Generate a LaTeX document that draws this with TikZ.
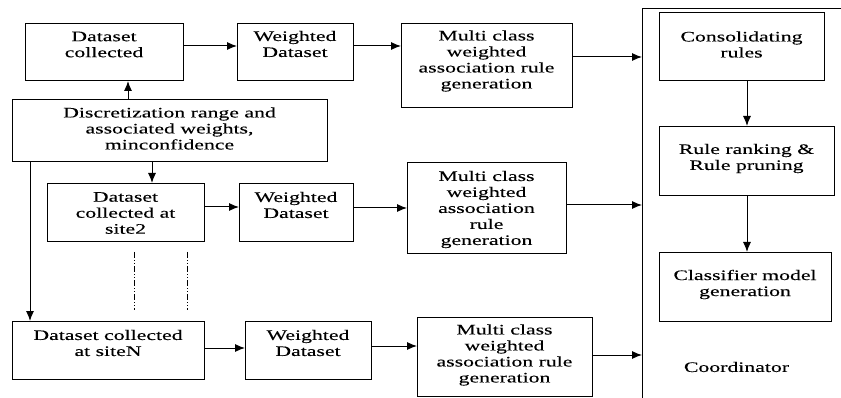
\documentclass[tikz,border=0pt]{standalone}
\usepackage{fontspec}
\setmainfont[FakeStretch=1.5,FakeBold=0.2]{Liberation Serif}
\usetikzlibrary{arrows.meta}

\tikzset{
  box/.style={draw, line width=1pt, inner sep=0pt, anchor=north west},
  txt/.style={align=center, inner sep=0pt, font=\fontsize{14.5}{16}\selectfont},
  flow/.style={line width=1pt, -{Latex[length=10pt,width=8pt]}},
  plain/.style={line width=1pt},
  dotdash/.style={line width=1pt, dash pattern=on 6pt off 2pt on 1pt off 2pt on 1pt off 2pt}
}

\begin{document}
\begin{tikzpicture}[x=1pt,y=-1pt]
\useasboundingbox (0,0) rectangle (841,398);

% site 1
\node[box, minimum width=158pt, minimum height=57pt] (dc) at (25,23) {};
\node[txt] (dct) at (104,44.5) {Dataset\\collected};
\node[box, minimum width=116pt, minimum height=57pt] (wd1) at (237,23) {};
\node[txt] (wd1t) at (295,44) {Weighted\\Dataset};
\node[box, minimum width=171pt, minimum height=84pt] (mc1) at (401,23) {};
\node[txt] (mc1t) at (486.5,61) {Multi class\\weighted\\association rule\\generation};

% parameters
\node[box, minimum width=315pt, minimum height=62pt] (disc) at (12,99) {};
\node[txt] (disct) at (169.5,128.5) {Discretization range and\\associated weights,\\minconfidence};

% site 2
\node[box, minimum width=157pt, minimum height=58pt] (s2) at (47,183) {};
\node[txt] (s2t) at (125.5,213) {Dataset\\collected at\\site2};
\node[box, minimum width=114pt, minimum height=58pt] (wd2) at (239,183) {};
\node[txt] (wd2t) at (296,205) {Weighted\\Dataset};
\node[box, minimum width=159pt, minimum height=91pt] (mc2) at (407,162) {};
\node[txt] (mc2t) at (486.5,209.5) {Multi class\\weighted\\association\\rule\\generation};

% site N
\node[box, minimum width=192pt, minimum height=58pt] (sN) at (12,321) {};
\node[txt] (sNt) at (108,343) {Dataset collected\\at siteN};
\node[box, minimum width=126pt, minimum height=58pt] (wd3) at (245,321) {};
\node[txt] (wd3t) at (308,343) {Weighted\\Dataset};
\node[box, minimum width=175pt, minimum height=79pt] (mc3) at (417,317) {};
\node[txt] (mc3t) at (504.5,355) {Multi class\\weighted\\association rule\\generation};

% coordinator
\node[box, minimum width=165pt, minimum height=68pt] (cr) at (659,12) {};
\node[txt] (crt) at (741.5,44.5) {Consolidating\\rules};
\node[box, minimum width=175pt, minimum height=69pt] (rr) at (659,126) {};
\node[txt] (rrt) at (746.5,158.5) {Rule ranking \&\\Rule pruning};
\node[box, minimum width=172pt, minimum height=69pt] (cl) at (659,252) {};
\node[txt] (clt) at (745,284.5) {Classifier model\\generation};
\node[txt] (coord) at (736.5,367) {Coordinator};

% coordinator boundary
\coordinate (ctop) at (642,9);
\coordinate (cbot) at (642,398);
\coordinate (cright) at (841,9);
\draw[plain] (cbot) -- (ctop) -- (cright);

% helper coordinates for connector positions
\coordinate (r1) at (0,46);
\coordinate (r2a) at (0,207);
\coordinate (r2b) at (0,208);
\coordinate (r3a) at (0,348);
\coordinate (r3b) at (0,346);
\coordinate (c1) at (642,57);
\coordinate (c2) at (642,205);
\coordinate (c3) at (642,355);
\coordinate (up) at (128,0);
\coordinate (down) at (152,0);
\coordinate (side) at (30,0);
\coordinate (mid) at (747,0);

% row arrows
\draw[flow] (dc.east |- r1) -- (wd1.west |- r1);
\draw[flow] (wd1.east |- r1) -- (mc1.west |- r1);
\draw[flow] (mc1.east |- c1) -- (c1);
\draw[flow] (s2.east |- r2a) -- (wd2.west |- r2a);
\draw[flow] (wd2.east |- r2b) -- (mc2.west |- r2b);
\draw[flow] (mc2.east |- c2) -- (c2);
\draw[flow] (sN.east |- r3a) -- (wd3.west |- r3a);
\draw[flow] (wd3.east |- r3b) -- (mc3.west |- r3b);
\draw[flow] (mc3.east |- c3) -- (c3);

% parameter distribution
\draw[flow] (disc.north -| up) -- (dc.south -| up);
\draw[flow] (disc.south -| down) -- (s2.north -| down);
\draw[flow] (disc.south -| side) -- (sN.north -| side);

% coordinator flow
\draw[flow] (cr.south -| mid) -- (rr.north -| mid);
\draw[flow] (rr.south -| mid) -- (cl.north -| mid);

% ellipsis between sites
\coordinate (e1a) at (134,252);
\coordinate (e1b) at (134,310);
\coordinate (e2a) at (187,252);
\coordinate (e2b) at (187,310);
\draw[dotdash] (e1a) -- (e1b);
\draw[dotdash] (e2a) -- (e2b);
\end{tikzpicture}
\end{document}
